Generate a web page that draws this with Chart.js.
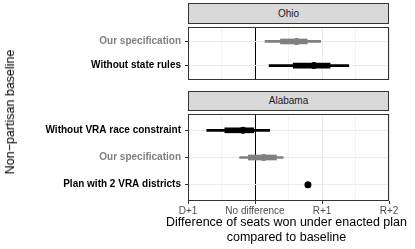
<!DOCTYPE html>
<html>
<head>
<meta charset="utf-8">
<script src="https://cdn.jsdelivr.net/npm/chart.js@4"></script>
<style>
  body { margin: 0; width: 415px; height: 249px; background: #fff; overflow: hidden; position: relative; font-family: "Liberation Sans", Arial, sans-serif; }
  .strip { position: absolute; left: 188px; width: 201px; box-sizing: border-box; background: #d9d9d9; border: 1px solid #333; color: #1a1a1a; font-size: 10px; text-align: center; }
  .panel { position: absolute; left: 0; width: 415px; }
  #ytitle { position: absolute; left: 10px; top: 112px; transform: translate(-50%, -50%) rotate(-90deg); white-space: nowrap; font-size: 12.5px; color: #000; }
  #xtitle { position: absolute; left: 146px; top: 215px; width: 281px; text-align: center; font-size: 12.5px; line-height: 15px; color: #000; }
</style>
</head>
<body>
<div class="strip" style="top:3px;height:21px;line-height:19px;">Ohio</div>
<div class="panel" style="top:23px;height:61px;"><canvas id="ohioChart"></canvas></div>
<div class="strip" style="top:91px;height:20px;line-height:18px;">Alabama</div>
<div class="panel" style="top:110px;height:139px;"><canvas id="alabamaChart"></canvas></div>
<div id="ytitle">Non−partisan baseline</div>
<div id="xtitle">Difference of seats won under enacted plan<br>compared to baseline</div>
<script>
const xTicks = [-1, 0, 1, 2];
const xTickLabels = ["D+1", "No difference", "R+1", "R+2"];

const ohioLabels = ["Our specification", "Without state rules"];
const ohioMid = [0.62, 0.88];
const ohioInnerLo = [0.38, 0.57];
const ohioInnerHi = [0.78, 1.12];
const ohioOuterLo = [0.15, 0.21];
const ohioOuterHi = [0.98, 1.40];
const ohioColors = ["#808080", "#000000"];

const alaLabels = ["Without VRA race constraint", "Our specification", "Plan with 2 VRA districts"];
const alaMid = [-0.18, 0.13, 0.79];
const alaInnerLo = [-0.45, -0.10, null];
const alaInnerHi = [-0.02, 0.32, null];
const alaOuterLo = [-0.72, -0.23, null];
const alaOuterHi = [0.22, 0.42, null];
const alaColors = ["#000000", "#808080", "#000000"];

Chart.defaults.font.family = '"Liberation Sans", Arial, sans-serif';

const panelBorder = {
  id: "panelBorder",
  afterDraw(chart) {
    const a = chart.chartArea;
    const ctx = chart.ctx;
    ctx.save();
    ctx.strokeStyle = "#333333";
    ctx.lineWidth = 1;
    ctx.strokeRect(Math.round(a.left) + 0.5, Math.round(a.top) + 0.5, Math.round(a.right - a.left) - 1, Math.round(a.bottom - a.top) - 1);
    ctx.restore();
  }
};

// rows without an interval are left out
function ranges(lo, hi, colors) {
  const pts = [];
  const cols = [];
  lo.forEach((v, i) => {
    if (v !== null) {
      pts.push({ x: [v, hi[i]], y: i + 1 });
      cols.push(colors[i]);
    }
  });
  return { pts, cols };
}

function makePanel(id, labels, mid, inLo, inHi, outLo, outHi, colors, showX) {
  const inner = ranges(inLo, inHi, colors);
  const outer = ranges(outLo, outHi, colors);
  new Chart(document.getElementById(id), {
    data: {
      datasets: [
        {
          type: "line",
          order: 0,
          data: mid.map((v, i) => ({ x: v, y: i + 1 })),
          showLine: false,
          pointRadius: 3.5,
          pointBorderWidth: 0,
          pointBackgroundColor: colors
        },
        {
          type: "bar",
          order: 1,
          data: inner.pts,
          backgroundColor: inner.cols,
          barThickness: 5,
          grouped: false
        },
        {
          type: "bar",
          order: 2,
          data: outer.pts,
          backgroundColor: outer.cols,
          barThickness: 2,
          grouped: false
        }
      ]
    },
    options: {
      indexAxis: "y",
      responsive: true,
      maintainAspectRatio: false,
      animation: false,
      devicePixelRatio: 1,
      layout: { padding: { left: 0, right: 26, top: 0, bottom: 0 } },
      plugins: { legend: { display: false }, tooltip: { enabled: false } },
      scales: {
        x: {
          type: "linear",
          min: -1,
          max: 2,
          offset: false,
          border: { display: false },
          grid: {
            offset: false,
            drawTicks: showX,
            tickLength: 3,
            lineWidth: 1,
            color: c => (c.tick.value === 0 ? "#000000" : Number.isInteger(c.tick.value) ? "#ebebeb" : "#f3f3f3"),
            tickColor: c => (Number.isInteger(c.tick.value) ? "#333333" : "rgba(0,0,0,0)")
          },
          ticks: {
            display: showX,
            stepSize: 0.5,
            autoSkip: false,
            maxRotation: 0,
            padding: 1,
            color: "#4d4d4d",
            font: { size: 10 },
            callback: v => {
              const i = xTicks.indexOf(v);
              return i >= 0 ? xTickLabels[i] : "";
            }
          },
          afterFit: s => {
            s.height = showX ? 48 : 0;
            s.paddingLeft = 0;
            s.paddingRight = 0;
          }
        },
        y: {
          type: "linear",
          reverse: true,
          min: 0.4,
          max: labels.length + 0.6,
          offset: false,
          border: { display: false },
          grid: { offset: false, color: "#ebebeb", tickColor: "#333333", tickLength: 3 },
          afterBuildTicks: s => { s.ticks = labels.map((_, i) => ({ value: i + 1 })); },
          ticks: {
            padding: 4,
            font: { size: 10, weight: "bold" },
            color: c => colors[c.index],
            callback: v => labels[v - 1]
          },
          afterFit: s => {
            s.width = 188;
            s.paddingTop = 0;
            s.paddingBottom = 0;
          }
        }
      }
    },
    plugins: [panelBorder]
  });
}

makePanel("ohioChart", ohioLabels, ohioMid, ohioInnerLo, ohioInnerHi, ohioOuterLo, ohioOuterHi, ohioColors, false);
makePanel("alabamaChart", alaLabels, alaMid, alaInnerLo, alaInnerHi, alaOuterLo, alaOuterHi, alaColors, true);
</script>
</body>
</html>
